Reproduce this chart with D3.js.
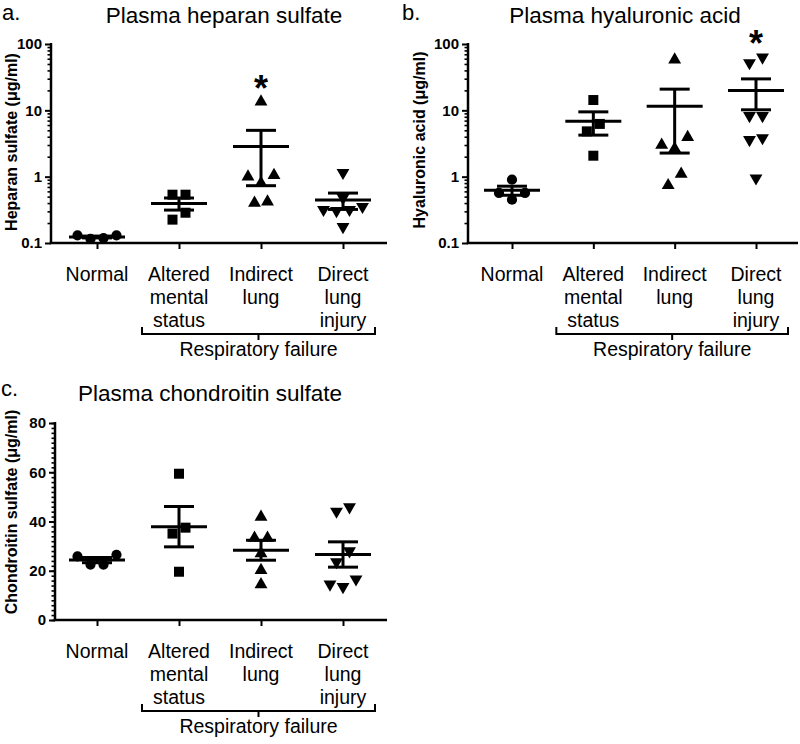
<!DOCTYPE html>
<html>
<head>
<meta charset="utf-8">
<script src="https://cdn.jsdelivr.net/npm/d3@7"></script>
<style>
body { margin: 0; background: #fff; }
svg { font-family: "Liberation Sans", Arial, sans-serif; }
</style>
</head>
<body>
<svg width="800" height="744"></svg>
<script>
var groups = ["Normal", "Altered mental status", "Indirect lung", "Direct lung injury"];
var groupLines = [["Normal"], ["Altered", "mental", "status"], ["Indirect", "lung"], ["Direct", "lung", "injury"]];
var bracketLabel = "Respiratory failure";

// values, one list per group
var heparanSulfate = [
	[0.13, 0.115, 0.118, 0.13],
	[0.535, 0.225, 0.535, 0.286],
	[13.5, 1.0, 1.05, 0.8, 0.4, 0.42],
	[1.15, 0.353, 0.318, 0.318, 0.307, 0.176, 0.48]
];
var hyaluronicAcid = [
	[0.90, 0.568, 0.568, 0.45],
	[14.3, 6.24, 4.82, 2.07],
	[58, 3.0, 3.92, 2.65, 0.74, 1.1],
	[63, 51.9, 8.3, 8.3, 3.84, 3.61, 0.95]
];
var chondroitinSulfate = [
	[25.8, 22.5, 22.5, 26.5],
	[59.4, 37.5, 35.1, 19.6],
	[41.8, 33.3, 33.3, 27, 20.2, 14.4],
	[44.1, 45.9, 28.0, 23.6, 16.6, 13.5, 14.5]
];
var logTicks = [0.1, 1, 10, 100];
var linTicks = [0, 20, 40, 60, 80];
var heparanStars = ["Indirect lung"];
var hyaluronicStars = ["Direct lung injury"];

var svg = d3.select('svg');

var shapes = [d3.symbolCircle, d3.symbolSquare, d3.symbolTriangle, d3.symbolTriangle];
var shapeSize = [82, 100, 72, 72];
var shapeTurn = [0, 0, 0, 180];

var minorLog = [];
logTicks.slice(0, -1).forEach(function(d){
	for (var k = 2; k < 10; k++) minorLog.push(d * k);
});
var minorLin = d3.range(0, 81, 2);

var panels = [
	{letter: 'a.', title: 'Plasma heparan sulfate', ylabel: 'Heparan sulfate (\u03bcg/ml)', values: heparanSulfate, stars: heparanStars,
	 log: true, left: 51, right: 387, top: 44, bottom: 243, first: 97, last: 343, lx: 2, ly: 20, tx: 224, ty: 23, labx: 17, laby: 142},
	{letter: 'b.', title: 'Plasma hyaluronic acid', ylabel: 'Hyaluronic acid (\u03bcg/ml)', values: hyaluronicAcid, stars: hyaluronicStars,
	 log: true, left: 468, right: 798, top: 44, bottom: 243, first: 512, last: 756, lx: 402, ly: 20, tx: 625, ty: 23, labx: 425, laby: 140},
	{letter: 'c.', title: 'Plasma chondroitin sulfate', ylabel: 'Chondroitin sulfate (\u03bcg/ml)', values: chondroitinSulfate, stars: [],
	 log: false, left: 55, right: 387, top: 423, bottom: 620, first: 97, last: 343, lx: 1, ly: 396, tx: 210, ty: 401, labx: 17, laby: 512}
];

// spread points that sit at nearly the same height side by side
function spread(vals, y) {
	var pts = vals.map(function(v){ return {v: v, py: y(v)}; })
		.sort(function(a, b){ return a.v - b.v; });
	var rows = [], row = null;
	pts.forEach(function(p){
		if (!row || Math.abs(p.py - row[0].py) >= 12) { row = [p]; rows.push(row); }
		else row.push(p);
	});
	rows.forEach(function(r){
		var n = r.length;
		var slots = d3.range(n).map(function(i){ return i - (n - 1) / 2; })
			.sort(function(a, b){ return Math.abs(a) - Math.abs(b) || a - b; });
		r.forEach(function(p, i){ p.dx = slots[i] * 13; });
	});
	return pts;
}

panels.forEach(function(p){
	var g = svg.append('g');
	var y = p.log
		? d3.scaleLog().domain([0.1, 100]).range([p.bottom, p.top])
		: d3.scaleLinear().domain([0, 80]).range([p.bottom, p.top]);
	var x = d3.scalePoint().domain(groups).range([p.first, p.last]);

	// titles
	g.append('text').attr('x', p.lx).attr('y', p.ly)
		.attr('font-size', 22).text(p.letter);
	g.append('text').attr('x', p.tx).attr('y', p.ty)
		.attr('font-size', 22.5).attr('text-anchor', 'middle').text(p.title);

	// y axis
	var yAxis = d3.axisLeft(y).tickValues(p.log ? logTicks : linTicks)
		.tickSize(6).tickSizeOuter(0).tickPadding(3)
		.tickFormat(p.log ? function(d){ return d < 1 ? '0.1' : d3.format('d')(d); } : d3.format('d'));
	var ya = g.append('g').attr('transform', 'translate(' + p.left + ',0)').call(yAxis);
	ya.select('.domain').remove();
	ya.selectAll('.tick line').attr('stroke', '#000').attr('stroke-width', 2);
	ya.selectAll('.tick text').attr('fill', '#000')
		.attr('font-size', 15).attr('font-weight', 'bold')
		.attr('font-family', '"Liberation Sans", Arial, sans-serif');

	var yMinor = d3.axisLeft(y).tickValues(p.log ? minorLog : minorLin)
		.tickSize(3.5).tickSizeOuter(0).tickFormat('');
	var ym = g.append('g').attr('transform', 'translate(' + p.left + ',0)').call(yMinor);
	ym.select('.domain').remove();
	ym.selectAll('.tick line').attr('stroke', '#000').attr('stroke-width', 1.6);

	g.append('text')
		.attr('transform', 'translate(' + p.labx + ',' + p.laby + ') rotate(-90)')
		.attr('text-anchor', 'middle').attr('font-size', 16).attr('font-weight', 'bold')
		.text(p.ylabel);

	// x axis
	var xAxis = d3.axisBottom(x).tickSize(6).tickSizeOuter(0).tickFormat('');
	var xa = g.append('g').attr('transform', 'translate(0,' + p.bottom + ')').call(xAxis);
	xa.select('.domain').remove();
	xa.selectAll('.tick line').attr('stroke', '#000').attr('stroke-width', 2);

	g.append('line')
		.attr('x1', p.left).attr('x2', p.left)
		.attr('y1', p.top - 1).attr('y2', p.bottom)
		.attr('stroke', '#000').attr('stroke-width', 2.5);
	g.append('line')
		.attr('x1', p.left - 1.25).attr('x2', p.right)
		.attr('y1', p.bottom).attr('y2', p.bottom)
		.attr('stroke', '#000').attr('stroke-width', 2.5);

	// category labels
	groups.forEach(function(name, i){
		var t = g.append('text').attr('text-anchor', 'middle').attr('font-size', 19.5);
		groupLines[i].forEach(function(line, j){
			t.append('tspan').attr('x', x(name)).attr('y', p.bottom + 37.5 + j * 23).text(line);
		});
	});

	// bracket for respiratory failure groups
	var bx0 = x(groups[1]) - 37, bx1 = x(groups[3]) + 32, by = p.bottom + 91, bm = (bx0 + bx1) / 2;
	g.append('path')
		.attr('d', 'M' + bx0 + ',' + (by - 7) + 'V' + by + 'H' + bx1 + 'V' + (by - 7) + 'M' + bm + ',' + by + 'V' + (by + 6))
		.attr('fill', 'none').attr('stroke', '#000').attr('stroke-width', 2);
	g.append('text').attr('x', bm).attr('y', p.bottom + 113)
		.attr('text-anchor', 'middle').attr('font-size', 19.5).text(bracketLabel);

	// points
	p.values.forEach(function(vals, i){
		var pts = spread(vals, y);
		g.selectAll(null).data(pts).enter().append('path')
			.attr('d', d3.symbol().type(shapes[i]).size(shapeSize[i]))
			.attr('transform', function(d){
				return 'translate(' + (x(groups[i]) + d.dx) + ',' + d.py + ') rotate(' + shapeTurn[i] + ')';
			})
			.attr('fill', '#000');
	});

	// mean and SEM
	p.values.forEach(function(vals, i){
		var m = d3.mean(vals), s = d3.deviation(vals) / Math.sqrt(vals.length);
		var cx = x(groups[i]);
		var eb = g.append('g').attr('stroke', '#000').attr('stroke-width', 3);
		eb.append('line').attr('x1', cx - 28).attr('x2', cx + 28).attr('y1', y(m)).attr('y2', y(m));
		eb.append('line').attr('x1', cx - 15).attr('x2', cx + 15).attr('y1', y(m + s)).attr('y2', y(m + s));
		eb.append('line').attr('x1', cx - 15).attr('x2', cx + 15).attr('y1', y(m - s)).attr('y2', y(m - s));
		eb.append('line').attr('x1', cx).attr('x2', cx).attr('y1', y(m - s)).attr('y2', y(m + s));
		if (p.stars.indexOf(groups[i]) >= 0) {
			g.append('text').attr('x', cx).attr('y', y(d3.max(vals)) - 1)
				.attr('text-anchor', 'middle').attr('font-size', 36).attr('font-weight', 'bold').text('*');
		}
	});
});
</script>
</body>
</html>
